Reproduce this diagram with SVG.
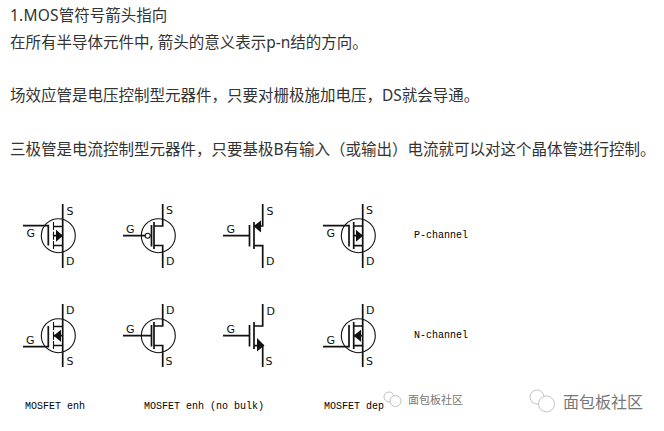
<svg xmlns="http://www.w3.org/2000/svg" width="664" height="431" viewBox="0 0 664 431">
<style>
.t{font:15.5px "Noto Sans","Noto Sans CJK SC",sans-serif;fill:#333}
.l{font:11px "DejaVu Sans",sans-serif;fill:#111}
.m{font:10px "Liberation Mono",monospace;fill:#000}
.w{stroke:#111;stroke-width:1.7;fill:none}
.c{stroke:#111;stroke-width:1.1;fill:none}
.a{fill:#111}
.wm{font-family:"Noto Sans CJK SC",sans-serif;fill:#777}
.ic{stroke:#bbb;stroke-width:.9;fill:#fff}
</style>
<rect width="664" height="431" fill="#fff"/>
<defs>
<g id="ch3"><path class="c" d="M0-13.7v8M0-4v8M0 5.3v8"/></g>
</defs>
<g id="text">
<text class="t" x="10" y="21"><tspan letter-spacing=".2">1.MOS</tspan>管符号箭头指向</text>
<text class="t" x="10" y="48">在所有半导体元件中, 箭头的意义表示p-n结的方向。</text>
<text class="t" x="10" y="101">场效应管是电压控制型元器件，只要对栅极施加电压，DS就会导通。</text>
<text class="t" x="10" y="155">三极管是电流控制型元器件，只要基极B有输入（或输出）电流就可以对这个晶体管进行控制。</text>
</g>
<g id="p-enh">
<circle class="c" cx="58.3" cy="235.7" r="17"/>
<path class="w" d="M62.7 204V226.5H53.5M62.7 268V245.5H53.5M23 225.7H48.3V245.5M62.7 226.5V245.5M54 235.7H62.7"/>
<use href="#ch3" x="53.5" y="235.7"/>
<path class="a" d="M56 229.7L63 235.7L56 241.7Z"/>
<text class="l" x="66.5" y="215">S</text><text class="l" x="66" y="265">D</text><text class="l" x="26.5" y="236.5">G</text>
</g>
<g id="p-enh-nobulk">
<circle class="c" cx="158.3" cy="235.7" r="17"/>
<circle class="c" cx="147.7" cy="235.7" r="2.5"/>
<path class="w" d="M162.7 204V226H154V245.5H162.7V268M154 222V249M123 235.7H145M151.5 225V246.5"/>
<text class="l" x="166" y="214">S</text><text class="l" x="166" y="265">D</text><text class="l" x="126" y="233">G</text>
</g>
<g id="p-nocircle">
<path class="w" d="M262.7 204V226H254M254 222V249M254 245.7H262.7V268M223 235.7H249.5M249.5 225V246.5"/>
<path class="a" d="M253.5 226L261 220.5V232.5Z"/>
<text class="l" x="266.5" y="215">S</text><text class="l" x="266" y="265">D</text><text class="l" x="226.5" y="233">G</text>
</g>
<g id="p-dep">
<circle class="c" cx="358.3" cy="235.7" r="17"/>
<path class="w" d="M362.7 204V226H353.7M353.7 222V249M353.7 245.7H362.7V268M323 225.7H349V246.5M362.7 226V245.7M354 235.7H362.7"/>
<path class="a" d="M356 229.7L363 235.7L356 241.7Z"/>
<text class="l" x="366" y="214">S</text><text class="l" x="366" y="265">D</text><text class="l" x="326.5" y="236.5">G</text>
</g>
<g id="n-enh">
<circle class="c" cx="58.3" cy="335.7" r="17"/>
<path class="w" d="M62.7 304V326.5H53.5M62.7 367V345.5H53.5M23 346.7H48.3V326M62.7 326.5V345.5M54 335.7H62.7"/>
<use href="#ch3" x="53.5" y="335.7"/>
<path class="a" d="M53.5 335.7L61 329.7V341.7Z"/>
<text class="l" x="66" y="314">D</text><text class="l" x="66.5" y="365">S</text><text class="l" x="26" y="344">G</text>
</g>
<g id="n-enh-nobulk">
<circle class="c" cx="158.3" cy="335.7" r="17"/>
<path class="w" d="M162.7 304V326H154V345.5H162.7V367M154 322V349M123 335.7H151.5M151.5 325V346.5"/>
<text class="l" x="166" y="314">D</text><text class="l" x="165.5" y="365">S</text><text class="l" x="126" y="333">G</text>
</g>
<g id="n-nocircle">
<path class="w" d="M262.7 304V326H254M254 322V349M254 345.7H262.7V367M223 335.7H249.5M249.5 325V346.5"/>
<path class="a" d="M257 338L264.5 345.5L257 351.5Z"/>
<text class="l" x="266.5" y="315">D</text><text class="l" x="265.5" y="365">S</text><text class="l" x="226.5" y="333">G</text>
</g>
<g id="n-dep">
<circle class="c" cx="358.3" cy="335.7" r="17"/>
<path class="w" d="M362.7 304V326H353.7M353.7 322V349M353.7 345.7H362.7V367M323 346.7H349V325M362.7 326V345.7M354 335.7H362.7"/>
<path class="a" d="M353.5 335.7L361 329.7V341.7Z"/>
<text class="l" x="366" y="314">D</text><text class="l" x="366" y="365">S</text><text class="l" x="326.5" y="344">G</text>
</g>
<g id="captions">
<text class="m" x="414" y="238">P-channel</text>
<text class="m" x="414" y="338">N-channel</text>
<text class="m" x="25" y="409">MOSFET enh</text>
<text class="m" x="144" y="409">MOSFET enh (no bulk)</text>
<text class="m" x="324" y="409">MOSFET dep</text>
</g>
<g id="watermark">
<circle class="ic" cx="389" cy="397" r="5"/><circle class="ic" cx="395.5" cy="401" r="5.5"/>
<text class="wm" x="408" y="404" font-size="11">面包板社区</text>
<circle class="ic" cx="537" cy="397" r="7"/><circle class="ic" cx="546.5" cy="404" r="8"/>
<text class="wm" x="563" y="408" font-size="16">面包板社区</text>
</g>
</svg>
